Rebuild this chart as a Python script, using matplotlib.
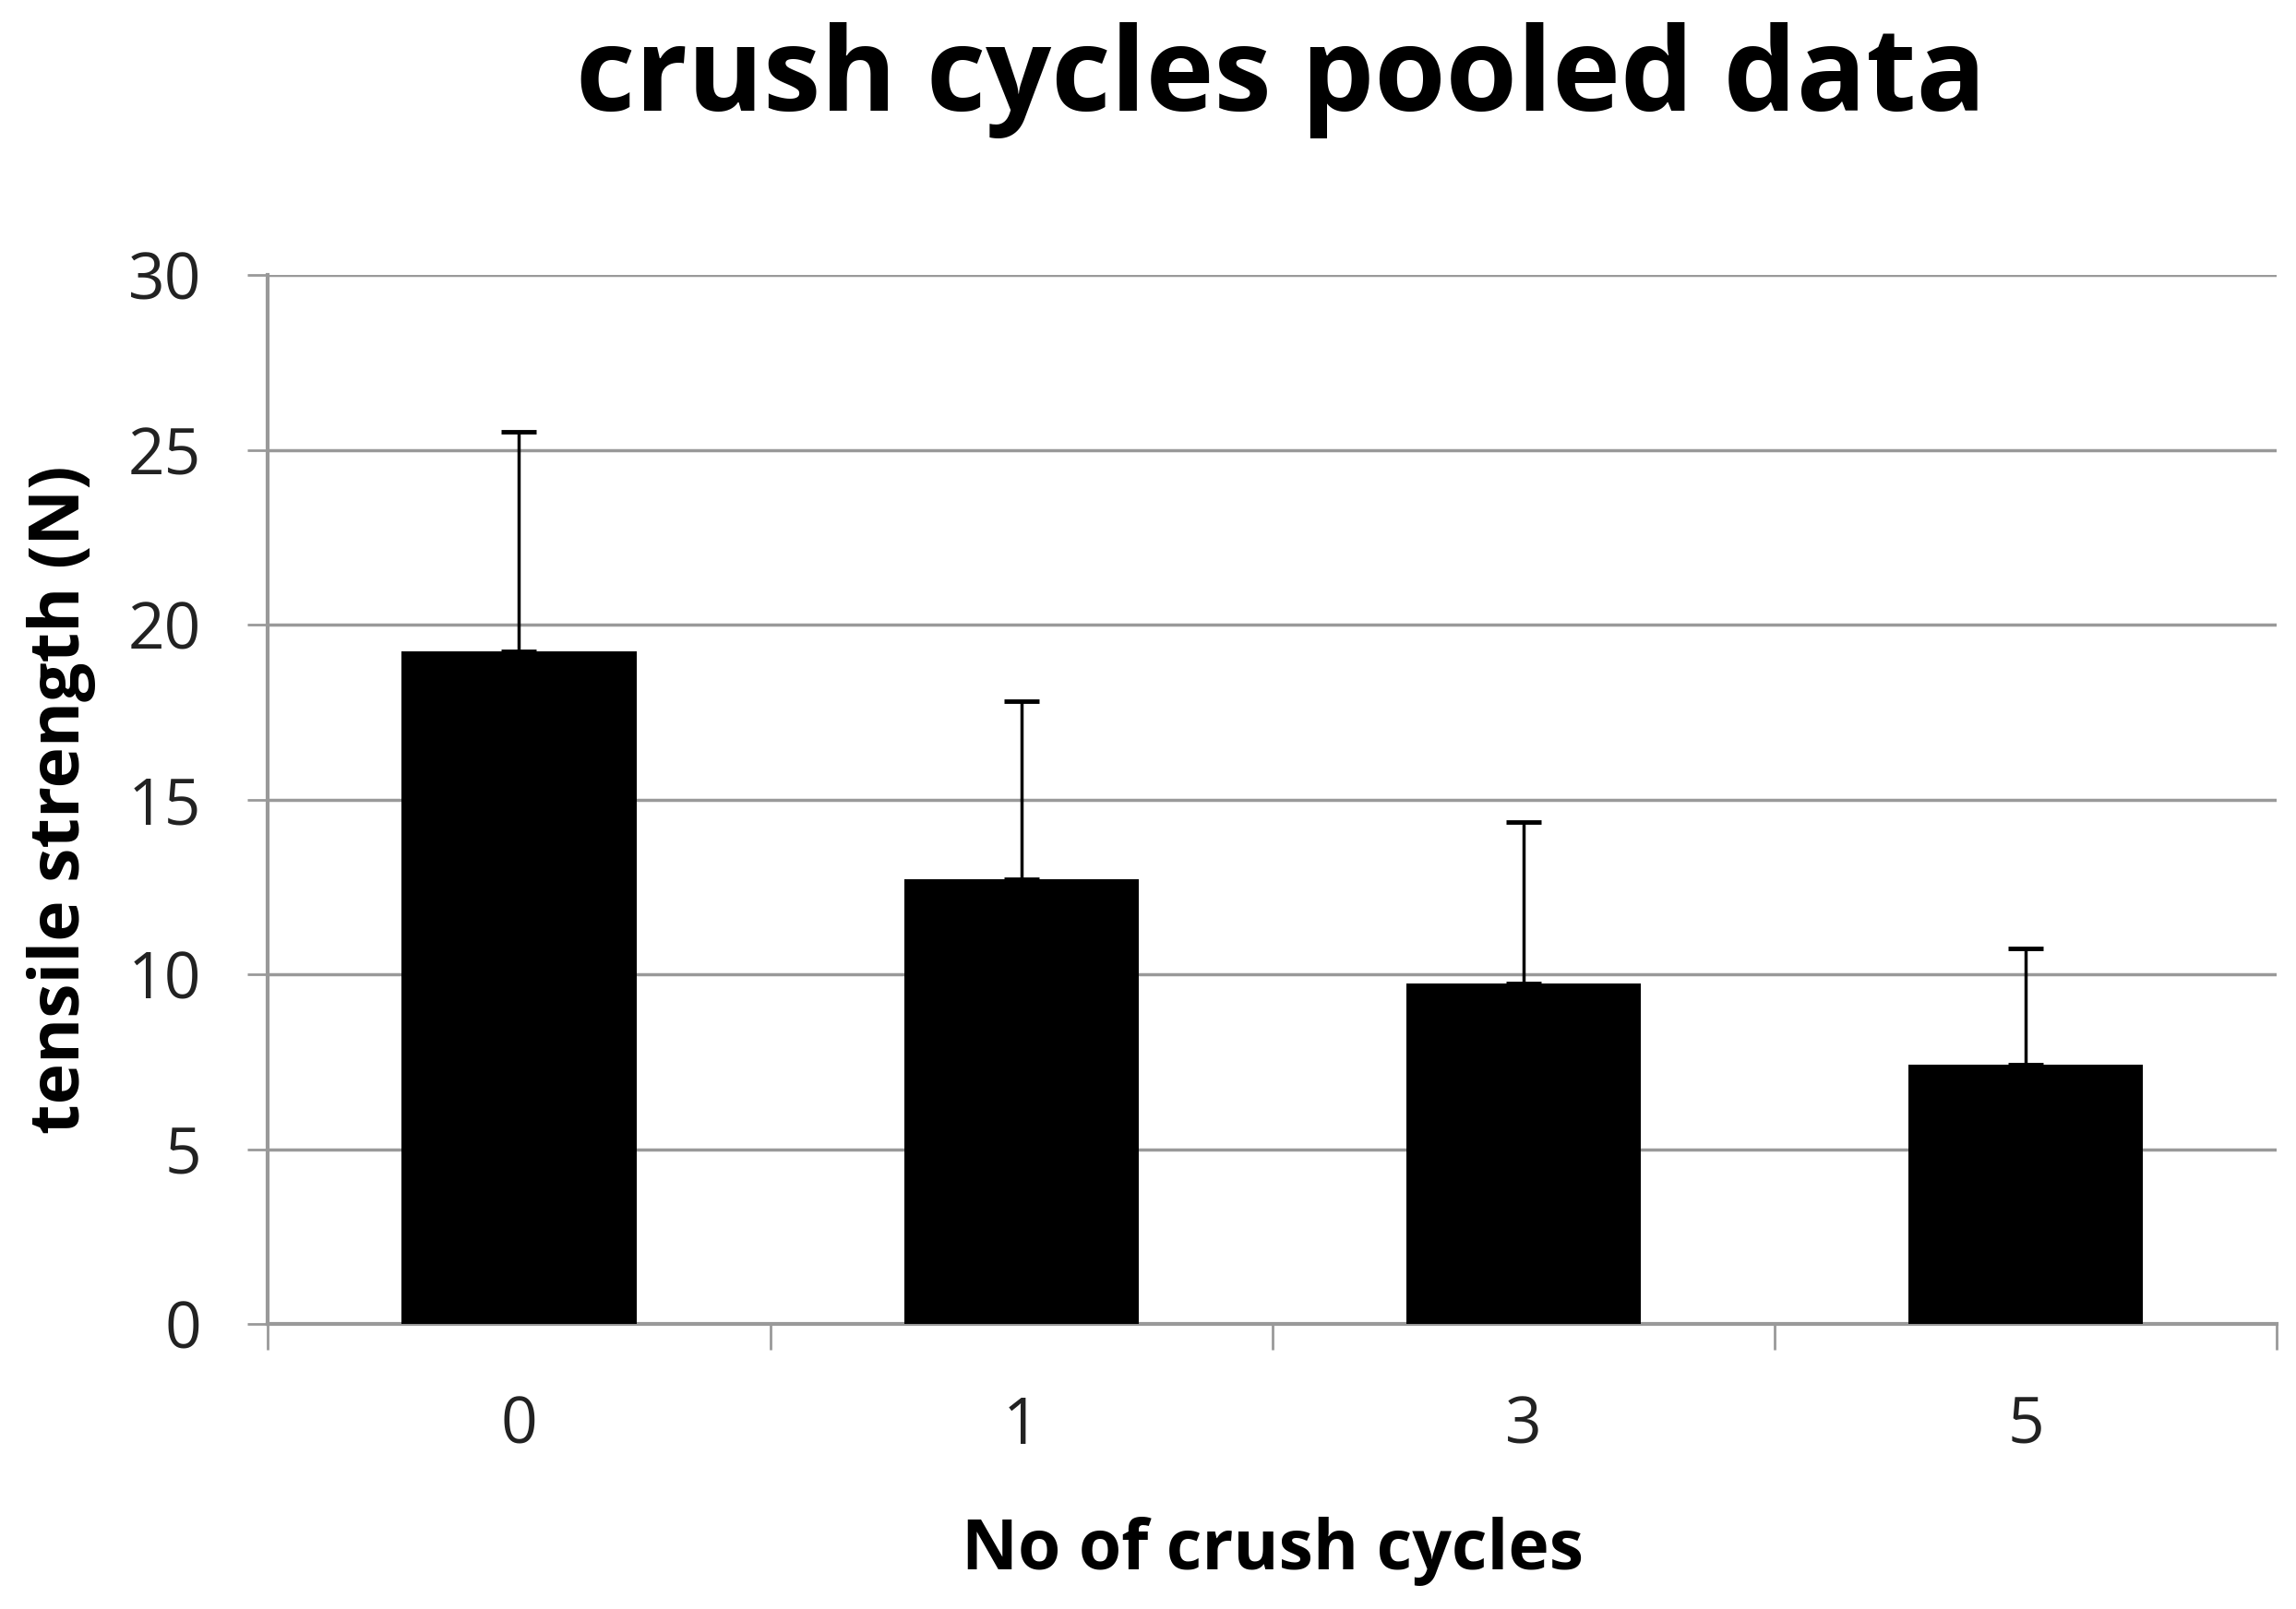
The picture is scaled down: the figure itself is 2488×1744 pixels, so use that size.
import matplotlib
matplotlib.use("Agg")
import matplotlib.pyplot as plt
import numpy as np

categories = ["0", "1", "3", "5"]
means = [19.25, 12.72, 9.75, 7.41]
err_upper = [6.27, 5.10, 4.60, 3.34]
yticks = [0, 5, 10, 15, 20, 25, 30]

title = "crush cycles pooled data"
xlabel = "No of crush cycles"
ylabel = "tensile strength (N)"

plt.rcParams['font.family'] = ['Open Sans', 'DejaVu Sans']

fig = plt.figure(figsize=(24.88, 17.44), dpi=100)
ax = fig.add_axes([0.1167, 0.177, 0.875, 0.652])

x = np.arange(len(categories))
ax.bar(x, means, width=0.467, color='black', zorder=3)
ax.errorbar(x, means, yerr=[np.zeros(len(means)), err_upper], fmt='none',
            ecolor='black', elinewidth=2.5, capsize=14, capthick=3.5, zorder=4)

ax.set_xlim(-0.5, len(categories) - 0.5)
ax.set_ylim(0, 30)
ax.set_yticks(yticks)
ax.set_yticklabels([str(t) for t in yticks], fontsize=50, color='#222222')
ax.set_xticks(x)
ax.set_xticklabels(categories, fontsize=50, color='#222222')
ax.set_xticks(np.arange(-0.5, len(categories), 1.0), minor=True)
ax.tick_params(axis='x', which='major', length=0, pad=55)
ax.tick_params(axis='x', which='minor', length=20, width=2, color='#999999')
ax.tick_params(axis='y', length=16, width=2, color='#999999', pad=36)

ax.yaxis.grid(True, color='#999999', linewidth=2.5, zorder=0)
ax.set_axisbelow(True)
for s in ['top', 'right']:
    ax.spines[s].set_visible(False)
for s in ['left', 'bottom']:
    ax.spines[s].set_color('#999999')
    ax.spines[s].set_linewidth(3)

ax.set_xlabel(xlabel, fontsize=54, fontweight='bold', labelpad=45)
ax.set_ylabel(ylabel, fontsize=54, fontweight='bold', labelpad=25)
fig.suptitle(title, fontsize=90, fontweight='bold', x=0.558, y=0.986, va='top')

fig.savefig("out.png", dpi=100)
